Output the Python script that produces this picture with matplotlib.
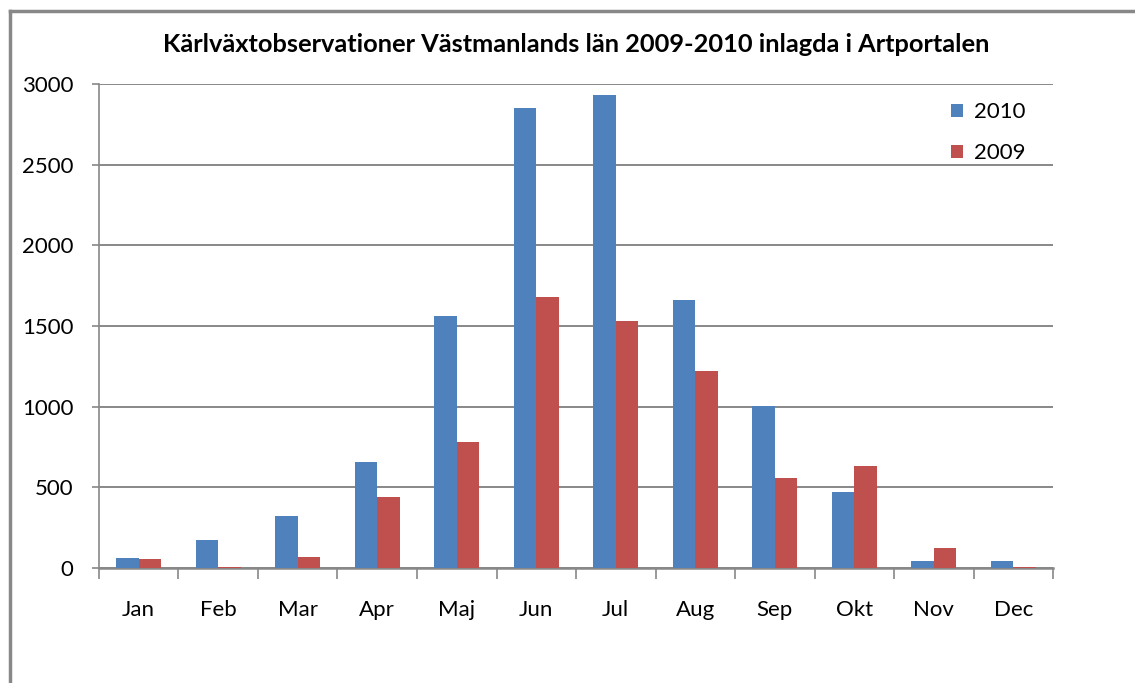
import numpy as np
import matplotlib.pyplot as plt
from matplotlib.lines import Line2D

months = ['Jan', 'Feb', 'Mar', 'Apr', 'Maj', 'Jun', 'Jul', 'Aug', 'Sep', 'Okt', 'Nov', 'Dec']
obs_2010 = [62, 174, 320, 657, 1562, 2852, 2932, 1661, 1004, 474, 43, 43]
obs_2009 = [56, 6, 68, 440, 781, 1680, 1531, 1221, 558, 632, 124, 6]

plt.rcParams['font.family'] = ['Lato', 'DejaVu Sans']

fig = plt.figure(figsize=(11.35, 6.83), dpi=100)
ax = fig.add_axes([0.0872, 0.1684, 0.8406, 0.7086])

x = np.arange(len(months))
w = 0.283
ax.bar(x - w / 2, obs_2010, w, color='#4F81BD', label='2010', zorder=3)
ax.bar(x + w / 2, obs_2009, w, color='#C0504D', label='2009', zorder=3)

ax.set_xlim(-0.5, 11.5)
ax.set_ylim(0, 3000)
ax.set_yticks(range(0, 3001, 500))
ax.tick_params(axis='y', labelsize=16, length=5, width=1.2, color='#888888', pad=13.5)
ax.set_xticks(np.arange(-0.5, 12, 1))
ax.set_xticklabels([])
ax.set_xticks(x, minor=True)
ax.set_xticklabels(months, minor=True)
ax.tick_params(axis='x', which='major', length=8, width=1.2, color='#888888')
ax.tick_params(axis='x', which='minor', length=0, labelsize=16, pad=23)
ax.grid(axis='y', color='#888888', linewidth=1.4, zorder=0)

for s in ['top', 'right']:
    ax.spines[s].set_visible(False)
ax.spines['left'].set_color('#888888')
ax.spines['bottom'].set_color('#888888')
ax.spines['bottom'].set_linewidth(1.8)
ax.spines['left'].set_linewidth(1.2)

ax.set_title('Kärlväxtobservationer Västmanlands län 2009-2010 inlagda i Artportalen',
             fontsize=18.3, fontweight='bold', pad=23)

leg = ax.legend(loc='upper left', bbox_to_anchor=(0.872, 1.004), frameon=False,
                fontsize=16, handlelength=0.55, handleheight=0.55, labelspacing=0.95,
                handletextpad=0.5)

# outer frame
fig.add_artist(Line2D([10 / 1135, 1], [1 - 11 / 683, 1 - 11 / 683], color='#888888', lw=2.5))
fig.add_artist(Line2D([10 / 1135, 10 / 1135], [0, 1 - 11 / 683], color='#888888', lw=2.5))

fig.savefig('out.png', dpi=100)
